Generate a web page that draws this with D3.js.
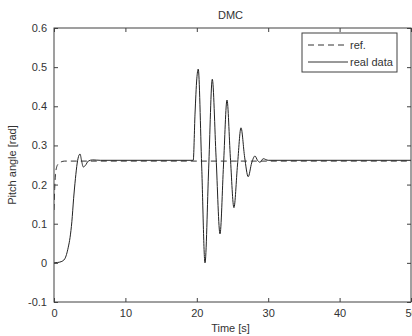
<!DOCTYPE html>
<html lang="en">
<head>
  <meta charset="UTF-8">
  <title>DMC</title>
  <script src="https://d3js.org/d3.v7.min.js"></script>
  <style>
    body { margin: 0; background: #fff; }
    svg { display: block; font-family: 'Liberation Sans', Arial, sans-serif; }
  </style>
</head>
<body>
  <script>
    // time axis ticks and values
    var xTicks = [0, 10, 20, 30, 40, 50];
    var yTicks = [-0.1, 0, 0.1, 0.2, 0.3, 0.4, 0.5, 0.6];

    var refTime = [0, 0.1, 0.2, 0.35, 0.6, 1.0, 1.5, 50];
    var refValue = [0.135, 0.19, 0.225, 0.243, 0.253, 0.258, 0.26, 0.26];

    var realTime = [0, 0.5, 1.0, 1.5, 2.0, 2.25, 2.5, 2.75, 3.0, 3.25, 3.5, 3.65, 3.85, 4.1, 4.4, 4.8, 5.4, 6.5,
      19.5, 19.75, 20.0, 20.2, 20.68, 21.15, 21.66, 22.17, 22.7, 23.25, 23.74, 24.23, 24.7, 25.2,
      25.7, 26.19, 26.7, 27.2, 27.68, 28.15, 28.5, 28.85, 29.3, 30, 50];
    var realValue = [0, 0.001, 0.003, 0.01, 0.04, 0.065, 0.105, 0.165, 0.215, 0.255, 0.275, 0.278, 0.262, 0.245, 0.249, 0.26, 0.263, 0.262,
      0.262, 0.38, 0.47, 0.495, 0.25, 0.0, 0.24, 0.469, 0.27, 0.074, 0.25, 0.416, 0.27, 0.141,
      0.25, 0.345, 0.27, 0.22, 0.255, 0.273, 0.262, 0.257, 0.266, 0.262, 0.262];

    var width = 412, height = 336;
    var margin = { top: 28, right: 1, bottom: 34, left: 54 };
    var innerW = width - margin.left - margin.right;
    var innerH = height - margin.top - margin.bottom;
    var axisColor = '#404040';

    var svg = d3.select('body').append('svg')
      .attr('width', width)
      .attr('height', height);

    var x = d3.scaleLinear().domain([0, 50]).range([0, innerW]);
    var y = d3.scaleLinear().domain([-0.1, 0.6]).range([innerH, 0]);

    var g = svg.append('g').attr('transform', 'translate(' + margin.left + ',' + margin.top + ')');

    g.append('clipPath').attr('id', 'clip')
      .append('rect').attr('width', innerW).attr('height', innerH);

    var line = d3.line()
      .x(function(d) { return x(d[0]); })
      .y(function(d) { return y(d[1]); })
      .curve(d3.curveMonotoneX);

    var refData = refTime.map(function(t, i) { return [t, refValue[i]]; });
    var realData = realTime.map(function(t, i) { return [t, realValue[i]]; });

    var plot = g.append('g').attr('clip-path', 'url(#clip)');
    plot.append('path').datum(refData)
      .attr('d', line)
      .attr('fill', 'none')
      .attr('stroke', '#333')
      .attr('stroke-width', 1)
      .attr('stroke-dasharray', '6,4');
    plot.append('path').datum(realData)
      .attr('d', line)
      .attr('fill', 'none')
      .attr('stroke', '#222')
      .attr('stroke-width', 1);

    // axes, ticks inward on all four sides
    function styleAxis(sel) {
      sel.select('.domain').remove();
      sel.selectAll('line').attr('stroke', axisColor);
      sel.selectAll('text').attr('fill', '#333').style('font-size', '11px');
    }
    g.append('g').attr('transform', 'translate(0,' + innerH + ')')
      .call(d3.axisBottom(x).tickValues(xTicks).tickSizeInner(-4).tickSizeOuter(0).tickPadding(7).tickFormat(d3.format('d')))
      .call(styleAxis);
    g.append('g')
      .call(d3.axisTop(x).tickValues(xTicks).tickSizeInner(-4).tickSizeOuter(0).tickFormat(''))
      .call(styleAxis);
    g.append('g')
      .call(d3.axisLeft(y).tickValues(yTicks).tickSizeInner(-4).tickSizeOuter(0).tickPadding(7).tickFormat(function(d) { return String(+d.toFixed(1)); }))
      .call(styleAxis);
    g.append('g').attr('transform', 'translate(' + innerW + ',0)')
      .call(d3.axisRight(y).tickValues(yTicks).tickSizeInner(-4).tickSizeOuter(0).tickFormat(''))
      .call(styleAxis);

    g.append('rect')
      .attr('width', innerW).attr('height', innerH)
      .attr('fill', 'none').attr('stroke', axisColor).attr('stroke-width', 1);

    svg.append('text')
      .attr('x', margin.left + innerW / 2 - 2).attr('y', 19)
      .attr('text-anchor', 'middle').attr('fill', '#333').style('font-size', '11px')
      .text('DMC');
    svg.append('text')
      .attr('x', margin.left + innerW / 2 - 2).attr('y', 332)
      .attr('text-anchor', 'middle').attr('fill', '#333').style('font-size', '11px')
      .text('Time [s]');
    svg.append('text')
      .attr('transform', 'translate(16,' + (margin.top + innerH / 2) + ') rotate(-90)')
      .attr('text-anchor', 'middle').attr('fill', '#333').style('font-size', '11px')
      .text('Pitch angle [rad]');

    // legend
    var legend = svg.append('g').attr('transform', 'translate(302,33)');
    legend.append('rect')
      .attr('width', 95).attr('height', 39)
      .attr('fill', '#fff').attr('stroke', axisColor).attr('stroke-width', 1);
    var items = [{ label: 'ref.', dash: '6,4' }, { label: 'real data', dash: null }];
    items.forEach(function(it, i) {
      var yy = 12 + i * 17;
      legend.append('line')
        .attr('x1', 6).attr('x2', 46).attr('y1', yy).attr('y2', yy)
        .attr('stroke', '#333').attr('stroke-width', 1)
        .attr('stroke-dasharray', it.dash);
      legend.append('text')
        .attr('x', 48).attr('y', yy + 4)
        .attr('fill', '#333').style('font-size', '11px')
        .text(it.label);
    });
  </script>
</body>
</html>
